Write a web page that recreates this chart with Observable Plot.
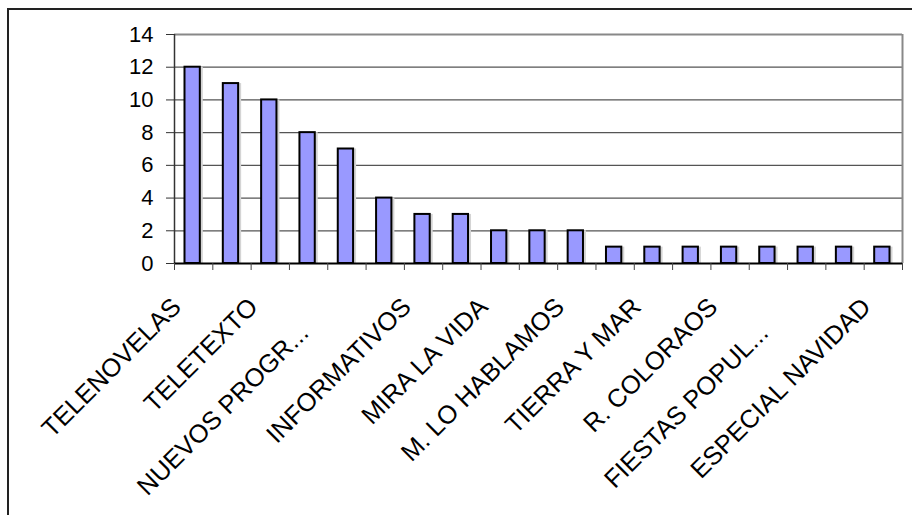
<!DOCTYPE html>
<html>
<head>
<meta charset="utf-8">
<script src="https://cdn.jsdelivr.net/npm/d3@7"></script>
<script src="https://cdn.jsdelivr.net/npm/@observablehq/plot@0.6"></script>
<style>
  html, body { margin: 0; padding: 0; background: #fff; }
  #wrap { position: relative; width: 912px; height: 515px; overflow: hidden; }
  #frame { position: absolute; left: 7px; top: 8px; width: 1000px; height: 1000px;
           border-left: 2px solid #222; border-top: 2px solid #222; pointer-events: none; }
  #chart { position: absolute; left: 0; top: 0; }
</style>
</head>
<body>
<div id="wrap"><div id="chart"></div><div id="frame"></div></div>
<script>
// Categories (only every other one is labelled in the original)
const labels = [
  "TELENOVELAS", "", "TELETEXTO", "", "NUEVOS PROGR...", "", "INFORMATIVOS", "",
  "MIRA LA VIDA", "", "M. LO HABLAMOS", "", "TIERRA Y MAR", "", "R. COLORAOS", "",
  "FIESTAS POPUL...", "", "ESPECIAL NAVIDAD"
];
const values = [12, 11, 10, 8, 7, 4, 3, 3, 2, 2, 2, 1, 1, 1, 1, 1, 1, 1, 1];
const yTicks = [0, 2, 4, 6, 8, 10, 12, 14];

const data = values.map((v, i) => ({i, v, label: labels[i]}));
const font = "'Liberation Sans', Arial, sans-serif";
const isTrunc = d => d.label.endsWith("...");

const labelStyle = {x: d => d.i + 0.5, y: 0, text: "label", rotate: -45, textAnchor: "end",
  lineAnchor: "bottom", fontSize: 25.5, fill: "#000"};

const chart = Plot.plot({
  width: 912,
  height: 515,
  marginLeft: 174,
  marginRight: 10,
  marginTop: 34,
  marginBottom: 252,
  style: {fontFamily: font, background: "transparent", overflow: "visible"},
  x: {type: "linear", domain: [0, values.length]},
  y: {domain: [0, 14]},
  marks: [
    Plot.ruleY(yTicks.filter(d => d > 0 && d < 14), {stroke: "#555", strokeWidth: 1.2}),
    Plot.ruleY([14], {stroke: "#888", strokeWidth: 2}),
    Plot.ruleX([values.length], {stroke: "#888", strokeWidth: 2}),
    Plot.rectY(data, {x1: d => d.i, x2: d => d.i + 1, y: "v", insetLeft: 10.5, insetRight: 12.5,
      fill: "#d4d4d4", dx: 3}),
    Plot.rectY(data, {x1: d => d.i, x2: d => d.i + 1, y: "v", insetLeft: 10.5, insetRight: 12.5,
      fill: "#9999FF", stroke: "#000", strokeWidth: 2}),
    Plot.ruleX([0], {stroke: "#333", strokeWidth: 1.5}),
    Plot.ruleY([0], {stroke: "#000", strokeWidth: 2}),
    Plot.axisY({ticks: yTicks, tickSize: 8, tickPadding: 13, fontSize: 22, label: null,
      stroke: "#333", color: "#000"}),
    Plot.axisX({ticks: d3.range(0, values.length + 1), tickSize: 7, tickFormat: () => "",
      label: null, stroke: "#444"}),
    Plot.text(data.filter(d => d.label && !isTrunc(d)), {...labelStyle, dx: -11, dy: 45}),
    Plot.text(data.filter(d => d.label && isTrunc(d)), {...labelStyle, dx: -37, dy: 71})
  ]
});
document.getElementById("chart").appendChild(chart);
</script>
</body>
</html>
